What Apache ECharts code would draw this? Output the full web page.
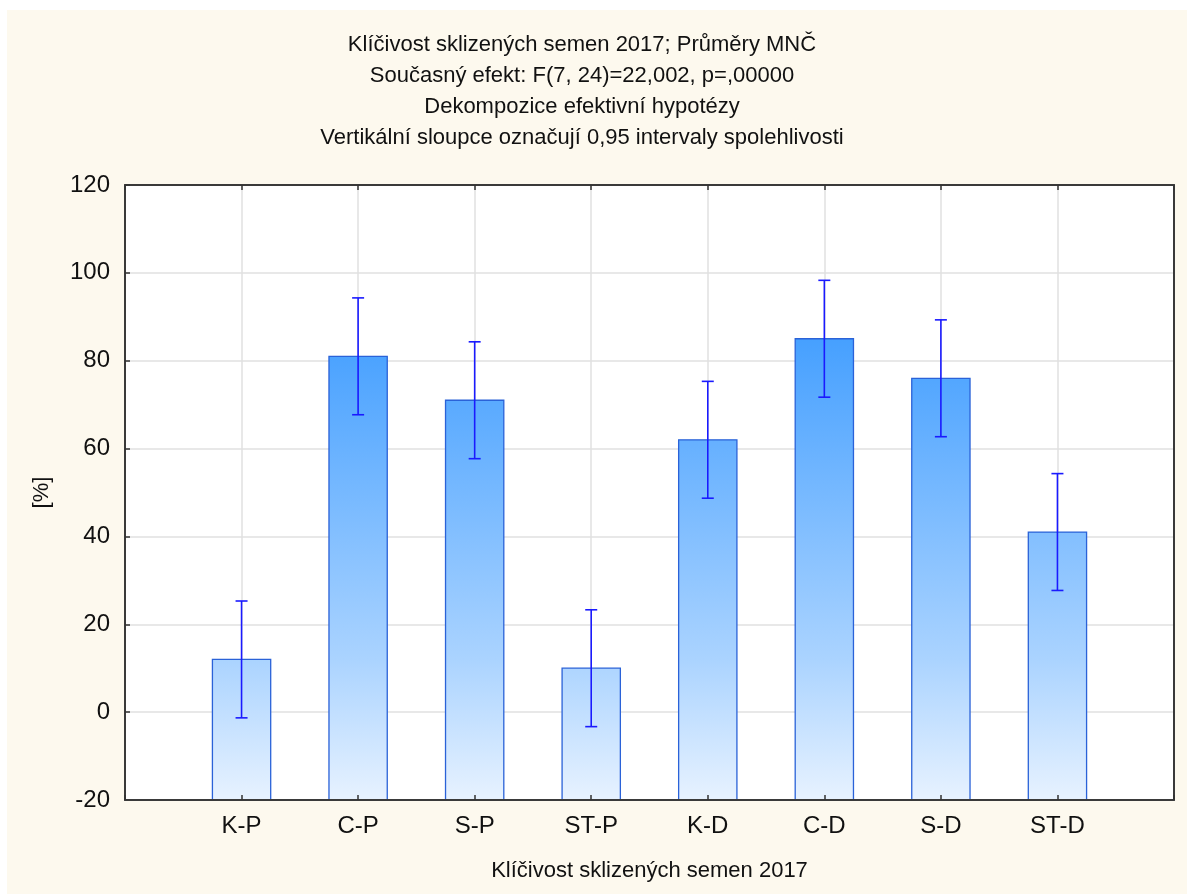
<!DOCTYPE html>
<html>
<head>
<meta charset="utf-8">
<title>Klíčivost sklizených semen 2017</title>
<script src="https://cdn.jsdelivr.net/npm/echarts@6/dist/echarts.min.js"></script>
<style>
  html, body { margin: 0; padding: 0; background: #ffffff; }
  #chart { position: absolute; left: 7px; top: 10px; width: 1180px; height: 884px; background: #fdf9ee; }
</style>
</head>
<body>
<div id="chart"></div>
<script>
// Germination of harvested seed by variant: LSM means with 0.95 confidence intervals
const categories = ['K-P', 'C-P', 'S-P', 'ST-P', 'K-D', 'C-D', 'S-D', 'ST-D'];
const means = [12, 81, 71, 10, 62, 85, 76, 41];
const upper = [25.3, 94.3, 84.3, 23.3, 75.3, 98.3, 89.3, 54.3];
const lower = [-1.3, 67.7, 57.7, -3.3, 48.7, 71.7, 62.7, 27.7];
const yTicks = { min: -20, max: 120, step: 20 };

const titleLines = [
  'Klíčivost sklizených semen 2017; Průměry MNČ',
  'Současný efekt: F(7, 24)=22,002, p=,00000',
  'Dekompozice efektivní hypotézy',
  'Vertikální sloupce označují 0,95 intervaly spolehlivosti'
];
const xName = 'Klíčivost sklizených semen 2017';
const yName = '[%]';

const FONT = '"Liberation Sans", Arial, sans-serif';
const GRID = { left: 118, top: 175, width: 1049, height: 615 };

// Fill shared across all bars: deep blue at the top of the plot fading to pale at the bottom
const barFill = {
  type: 'linear', global: true,
  x: 0, y: GRID.top, x2: 0, y2: GRID.top + GRID.height,
  colorStops: [
    { offset: 0, color: '#2e8bff' },
    { offset: 0.25, color: '#46a0ff' },
    { offset: 0.77, color: '#aad3ff' },
    { offset: 1, color: '#e7f2ff' }
  ]
};

const barData = categories.map((c, i) => [i + 1, means[i]]);
const errData = categories.map((c, i) => [i + 1, lower[i], upper[i]]);

const chart = echarts.init(document.getElementById('chart'), null, { renderer: 'canvas' });

function frameLine() { return { onZero: false, show: true, lineStyle: { color: '#3a3a3a', width: 2 } }; }
function innerTick() { return { show: true, inside: true, length: 5, lineStyle: { color: '#333333', width: 1.5 } }; }
const gridLine = { show: true, lineStyle: { color: '#e0e0e0', width: 1.5 } };

chart.setOption({
  backgroundColor: '#fdf9ee',
  animation: false,
  textStyle: { fontFamily: FONT },
  graphic: [{
    type: 'text',
    x: 575, y: 19,
    style: {
      text: titleLines.join('\n'),
      font: '22px ' + FONT,
      fill: '#111111',
      align: 'center',
      verticalAlign: 'top',
      lineHeight: 31
    }
  }],
  grid: { left: GRID.left, top: GRID.top, width: GRID.width, height: GRID.height, backgroundColor: '#ffffff', show: true, borderWidth: 0 },
  xAxis: [{
    // bottom axis sits above the bars so its inner ticks stay visible
    type: 'value', min: 0, max: categories.length + 1, interval: 1,
    position: 'bottom', z: 10,
    name: xName, nameLocation: 'middle', nameGap: 60,
    nameTextStyle: { fontSize: 22, color: '#111111', fontFamily: FONT },
    axisLine: frameLine(),
    axisTick: innerTick(),
    axisLabel: {
      fontSize: 24, color: '#111111', margin: 14, fontFamily: FONT,
      formatter: v => categories[v - 1] || ''
    },
    splitLine: { show: false }
  }, {
    // top axis carries the vertical grid lines behind the bars
    type: 'value', min: 0, max: categories.length + 1, interval: 1,
    position: 'top', z: 0,
    axisLine: frameLine(),
    axisTick: innerTick(),
    axisLabel: { show: false },
    splitLine: gridLine
  }],
  yAxis: [{
    type: 'value', min: yTicks.min, max: yTicks.max, interval: yTicks.step,
    position: 'left',
    name: yName, nameLocation: 'middle', nameGap: 72, nameRotate: 90,
    nameTextStyle: { fontSize: 22, color: '#111111', fontFamily: FONT },
    axisLine: frameLine(),
    axisTick: innerTick(),
    axisLabel: { fontSize: 24, color: '#111111', margin: 15, fontFamily: FONT },
    splitLine: gridLine
  }, {
    type: 'value', min: yTicks.min, max: yTicks.max, interval: yTicks.step,
    position: 'right',
    axisLine: frameLine(),
    axisTick: { show: false },
    axisLabel: { show: false },
    splitLine: { show: false }
  }],
  series: [{
    // Bars rise from the bottom of the value axis
    type: 'custom',
    xAxisIndex: 0, yAxisIndex: 0,
    data: barData,
    z: 3,
    renderItem: (params, api) => {
      const x = api.value(0);
      const top = api.coord([x, api.value(1)]);
      const base = api.coord([x, yTicks.min]);
      const w = api.size([1, 0])[0] * 0.5;
      return {
        type: 'rect',
        shape: { x: top[0] - w / 2, y: top[1], width: w, height: base[1] - top[1] },
        style: { fill: barFill, stroke: '#2a62d8', lineWidth: 1.3 }
      };
    }
  }, {
    // 0.95 confidence-interval whiskers
    type: 'custom',
    xAxisIndex: 0, yAxisIndex: 0,
    data: errData,
    z: 4,
    renderItem: (params, api) => {
      const x = api.value(0);
      const lo = api.coord([x, api.value(1)]);
      const hi = api.coord([x, api.value(2)]);
      const cap = 6;
      const st = { stroke: '#1a1aff', lineWidth: 1.6 };
      return {
        type: 'group',
        children: [
          { type: 'line', shape: { x1: hi[0], y1: hi[1], x2: lo[0], y2: lo[1] }, style: st },
          { type: 'line', shape: { x1: hi[0] - cap, y1: hi[1], x2: hi[0] + cap, y2: hi[1] }, style: st },
          { type: 'line', shape: { x1: lo[0] - cap, y1: lo[1], x2: lo[0] + cap, y2: lo[1] }, style: st }
        ]
      };
    }
  }]
});
</script>
</body>
</html>
